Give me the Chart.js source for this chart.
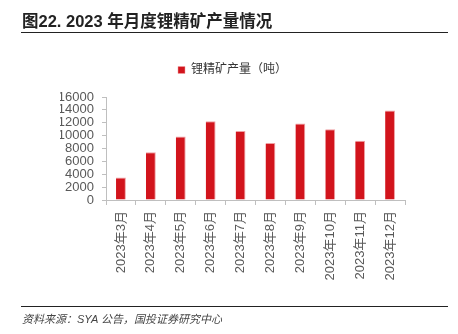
<!DOCTYPE html>
<html>
<head>
<meta charset="utf-8">
<script src="https://cdn.jsdelivr.net/npm/chart.js@4"></script>
<style>
  html, body { margin: 0; padding: 0; background: #fff; }
  #wrap { position: relative; width: 458px; height: 334px; overflow: hidden; }
  #chart { position: absolute; left: 0; top: 0; }
  .title { position: absolute; left: 22px; top: 8px; font: bold 16.5px "Liberation Sans", "Noto Sans CJK SC", sans-serif; color: #222; }
  .rule { position: absolute; left: 21px; width: 427px; height: 0; border-top: 1.5px solid #222; }
  .src { position: absolute; left: 22px; top: 310px; font: italic 11px "Liberation Sans", "Noto Sans CJK SC", sans-serif; color: #444; }
</style>
</head>
<body>
<div id="wrap">
  <canvas id="chart" width="458" height="334"></canvas>
  <div class="title">图22. 2023 年月度锂精矿产量情况</div>
  <div class="rule" style="top:32px"></div>
  <div class="rule" style="top:306px"></div>
  <div class="src">资料来源：SYA 公告，国投证券研究中心</div>
</div>
<script>
const months = ['2023年3月', '2023年4月', '2023年5月', '2023年6月', '2023年7月',
                '2023年8月', '2023年9月', '2023年10月', '2023年11月', '2023年12月'];
const output = [3500, 7400, 9850, 12250, 10700, 8850, 11900, 11000, 9200, 13900];
const seriesName = '锂精矿产量（吨）';
const yStep = 2000;
const yMax = 16000;

const fontFam = '"Liberation Sans", "Noto Sans CJK SC", sans-serif';
Chart.defaults.font.family = fontFam;
Chart.defaults.color = '#595959';

// extra room under the legend
const legendGap = {
    id: 'legendGap',
    beforeInit(chart) {
        const fit = chart.legend.fit;
        chart.legend.fit = function () {
            fit.bind(chart.legend)();
            this.height += 11;
        };
    }
};

new Chart(document.getElementById('chart').getContext('2d'), {
    type: 'bar',
    data: {
        labels: months,
        datasets: [{
            label: seriesName,
            data: output,
            backgroundColor: '#d2141c',
            borderColor: '#f0a0a3',
            borderWidth: { top: 1, right: 1, left: 0, bottom: 0 },
            barPercentage: 0.33,
            categoryPercentage: 1
        }]
    },
    plugins: [legendGap],
    options: {
        responsive: false,
        animation: false,
        layout: { padding: { top: 56, right: 53, left: 60, bottom: 0 } },
        plugins: {
            legend: {
                labels: { boxWidth: 7, boxHeight: 7, padding: 8, font: { size: 12 }, color: '#333' }
            },
            tooltip: { enabled: false }
        },
        scales: {
            y: {
                min: 0, max: yMax,
                afterFit: s => { s.width = 46; },
                border: { color: '#bfbfbf' },
                grid: { drawOnChartArea: false, tickLength: 4, color: '#bfbfbf' },
                ticks: { stepSize: yStep, autoSkip: false, font: { size: 13 }, padding: 8, color: '#595959',
                         callback: v => String(v) }
            },
            x: {
                afterFit: s => { s.height = 134; },
                border: { color: '#bfbfbf' },
                grid: { drawOnChartArea: false, tickLength: 5, color: '#bfbfbf', offset: true },
                ticks: { minRotation: 90, maxRotation: 90, autoSkip: false, font: { size: 13 }, padding: 6, color: '#595959' }
            }
        }
    }
});
</script>
</body>
</html>
